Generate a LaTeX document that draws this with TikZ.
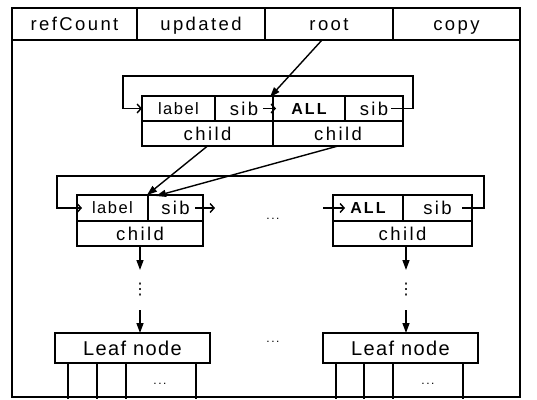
\documentclass[tikz,border=0pt]{standalone}
\usepackage{fontspec}
\setmainfont{Liberation Sans}[LetterSpace=13]
\newfontfamily\symfont{DejaVu Sans}
\usetikzlibrary{arrows.meta}
\tikzset{
  every picture/.style={x=1pt,y=-1pt},
  lw/.style={line width=1.4pt},
  cell/.style={draw, lw, rectangle, inner sep=0pt, outer sep=0pt,
    text height=13.2pt, text depth=0pt,
    font=\fontsize{18.5}{18.5}\selectfont},
  smallcell/.style={cell, text height=11.8pt,
    font=\fontsize{16.5}{16.5}\selectfont\addfontfeature{LetterSpace=9}},
  allcell/.style={cell, text height=11.5pt,
    font=\fontsize{16}{16}\selectfont\bfseries\addfontfeature{LetterSpace=13}},
  leafcell/.style={cell, text height=14.3pt,
    font=\fontsize{20}{20}\selectfont\addfontfeature{LetterSpace=7}},
  barb/.style={lw, -{Straight Barb[length=4pt,width=9pt]}},
  solid arrow/.style={lw, -{Triangle[length=10pt,width=7pt]}},
  dotsnode/.style={inner sep=0pt, font=\fontsize{12}{12}\selectfont},
  vdotsnode/.style={inner sep=0pt, font=\fontsize{16}{16}\symfont},
}
\begin{document}
\begin{tikzpicture}
\useasboundingbox (0,0) rectangle (537,399);
% outer frame
\draw[lw] (12,8) rectangle (520,397);
% header fields
\node[cell, minimum width=125, minimum height=32] (hcount) at (74.5,24) {refCount};
\node[cell, minimum width=128, minimum height=32] (hupd) at (201,24) {updated};
\node[cell, minimum width=128, minimum height=32] (hroot) at (329,24) {root};
\node[cell, minimum width=127, minimum height=32] (hcopy) at (456.5,24) {copy};

% root tree node (two entries)
\node[smallcell, minimum width=73, minimum height=25] (tlabel) at (178.5,108.5) {label};
\node[cell, minimum width=58, minimum height=25] (tsibA) at (244,108.5) {sib};
\node[allcell, minimum width=72, minimum height=25] (tall) at (309,108.5) {ALL};
\node[cell, minimum width=58, minimum height=25] (tsibB) at (374,108.5) {sib};
\node[cell, minimum width=131, minimum height=25] (tchildA) at (207.5,133.5) {child};
\node[cell, minimum width=130, minimum height=25] (tchildB) at (338,133.5) {child};

% second level, left node
\node[smallcell, minimum width=71, minimum height=26] (llabel) at (112.5,208) {label};
\node[cell, minimum width=55, minimum height=26] (lsib) at (175.5,208) {sib};
\node[cell, minimum width=126, minimum height=25] (lchild) at (140,233.5) {child};

% second level, right node
\node[allcell, minimum width=70, minimum height=26] (rall) at (368,208) {ALL};
\node[cell, minimum width=69, minimum height=26] (rsib) at (437.5,208) {sib};
\node[cell, minimum width=139, minimum height=25] (rchild) at (402.5,233.5) {child};

\node[dotsnode] (mdots) at (273,219) {...};

% leaf nodes
\node[leafcell, minimum width=155, minimum height=30] (lleaf) at (132.5,348) {Leaf node};
\node[leafcell, minimum width=155, minimum height=30] (rleaf) at (400.5,348) {Leaf node};
\node[dotsnode] (leafdots) at (273,342) {...};

% vertical ellipses between levels
\node[vdotsnode] (lvd) at (140,290) {⋮};
\node[vdotsnode] (rvd) at (406,290) {⋮};

% root pointer
\draw[solid arrow] ([xshift=-7pt]hroot.south) -- ([xshift=-3pt,yshift=-1pt]tsibA.north east);

% sibling ring of the root node
\coordinate (tstart) at ([xshift=-12pt]tsibB.east);
\coordinate (tcorner) at (123,76);
\draw[barb] (tstart) -- ++(22,0) |- (tcorner) |- (tlabel.west);
\draw[barb] ([xshift=-10pt]tsibA.east) -- ([xshift=3pt]tsibA.east);

% child pointers of the root node
\draw[solid arrow] (tchildA.south) -- ([xshift=-1pt]llabel.north east);
\draw[solid arrow] (tchildB.south) -- ([xshift=8pt,yshift=-1pt]llabel.north east);

% sibling ring of the second level
\coordinate (rstart) at ([xshift=-10pt]rsib.east);
\coordinate (lcorner) at (57,176);
\draw[barb] (rstart) -- ++(22,0) |- (lcorner) |- ([xshift=5pt]llabel.west);
\draw[barb] ([xshift=-8pt]lsib.east) -- ([xshift=12pt]lsib.east);
\draw[barb] ([xshift=-10pt]rall.west) -- ([xshift=12pt]rall.west);

% paths down to the leaves
\draw[solid arrow] (lchild.south) -- (140,270);
\draw[solid arrow] (rchild.south -| rvd) -- (406,270);
\draw[solid arrow] (140,310) -- (lleaf.north -| lvd);
\draw[solid arrow] (406,310) -- (rleaf.north -| rvd);

% entries below the leaves
\foreach \x in {68,97,126,196} \draw[lw] (\x,363) -- (\x,399);
\foreach \x in {336,364,393,463} \draw[lw] (\x,363) -- (\x,399);
\node[dotsnode] (ldots) at (160,384) {...};
\node[dotsnode] (rdots) at (428,384) {...};
\end{tikzpicture}
\end{document}
